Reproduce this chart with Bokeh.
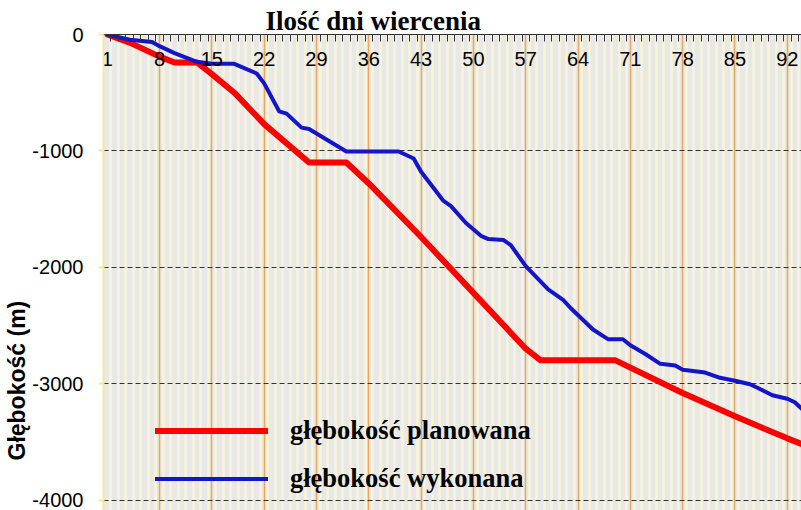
from bokeh.plotting import figure
from bokeh.models import FixedTicker, Legend, LegendItem, Range1d, Title
from bokeh.embed import file_html
from bokeh.resources import INLINE

# ---- data ----
x_ticks = [1, 8, 15, 22, 29, 36, 43, 50, 57, 64, 71, 78, 85, 92]
y_ticks = [0, -1000, -2000, -3000, -4000]
y_tick_labels = ["0", "-1000", "-2000", "-3000", "-4000"]

plan_days = [1, 4, 8, 10, 13, 15, 18, 22, 28, 33, 36, 43, 50, 57, 59, 69, 78, 85, 92, 94]
plan_depth = [0, -70, -190, -240, -240, -340, -500, -770, -1100, -1100, -1280, -1740,
              -2220, -2700, -2800, -2800, -3080, -3280, -3470, -3520]

done_days = [1, 4, 7, 8, 10, 13, 15, 18, 21, 22, 24, 25, 27, 28, 33, 40, 42, 43, 46, 47,
             49, 51, 52, 54, 55, 57, 60, 62, 63, 66, 68, 70, 71, 73, 75, 77, 78, 81, 83,
             85, 87, 88, 90, 92, 93, 94]
done_depth = [0, -45, -65, -100, -160, -235, -252, -252, -335, -420, -660, -680, -800,
              -812, -1005, -1005, -1065, -1180, -1430, -1475, -1620, -1730, -1758, -1765,
              -1810, -1990, -2190, -2280, -2350, -2535, -2618, -2618, -2670, -2745, -2830,
              -2845, -2880, -2905, -2950, -2975, -3005, -3035, -3100, -3130, -3160, -3220]

x_title = "Ilość dni wiercenia"
y_title = "Głębokość (m)"
label_plan = "głębokość planowana"
label_done = "głębokość wykonana"

# ---- figure ----
boundaries = [d + 0.5 for d in range(0, 94)]

p = figure(width=801, height=510,
           x_range=Range1d(0.5, 93.9), y_range=Range1d(-4090, 0),
           x_axis_location="above", title=x_title, title_location="above",
           output_backend="svg", toolbar_location=None,
           min_border_left=103, min_border_top=34, min_border_right=0, min_border_bottom=0,
           background_fill_color="#e8e8e8", border_fill_color="white",
           outline_line_color=None)

p.title.align = "left"
p.title.offset = 162
p.title.standoff = -3
p.title.text_font = "Liberation Serif"
p.title.text_font_style = "bold"
p.title.text_font_size = "27px"
p.title.text_color = "black"

xa = p.xaxis[0]
xa.ticker = FixedTicker(ticks=x_ticks, minor_ticks=boundaries)
xa.axis_line_color = "#333333"
xa.axis_line_width = 1
xa.major_tick_in = 0
xa.major_tick_out = 0
xa.minor_tick_in = 7
xa.minor_tick_out = 0
xa.minor_tick_line_color = "#333333"
xa.major_label_standoff = -31
xa.major_label_text_font = "Liberation Sans"
xa.major_label_text_font_size = "20px"
xa.major_label_text_color = "black"

ya = p.yaxis[0]
ya.ticker = FixedTicker(ticks=y_ticks)
ya.major_label_overrides = dict(zip(y_ticks, y_tick_labels))
ya.axis_line_color = "#f3ea9a"
ya.axis_line_width = 2
ya.major_tick_in = 0
ya.major_tick_out = 5
ya.major_tick_line_color = "#f3ea9a"
ya.major_tick_line_width = 2
ya.minor_tick_line_color = None
ya.major_label_standoff = 15
ya.major_label_text_font = "Liberation Sans"
ya.major_label_text_font_size = "20px"
ya.major_label_text_color = "black"

p.add_layout(Title(text=y_title, align="left", offset=50, standoff=0,
                   text_font="Liberation Sans", text_font_style="bold",
                   text_font_size="23px", text_color="black"), "left")

p.xgrid.ticker = FixedTicker(ticks=x_ticks[1:], minor_ticks=boundaries)
p.xgrid.grid_line_color = "#e7a862"
p.xgrid.grid_line_width = 1.5
p.xgrid.minor_grid_line_color = "#f8f4d8"
p.xgrid.minor_grid_line_width = 2.5

p.ygrid.ticker = FixedTicker(ticks=y_ticks[1:])
p.ygrid.grid_line_color = "#333333"
p.ygrid.grid_line_dash = "5 3"
p.ygrid.grid_line_width = 1

r_plan = p.line(plan_days, plan_depth, line_color="#ff0000", line_width=6,
                line_join="round", line_cap="round")
r_done = p.line(done_days, done_depth, line_color="#1414c8", line_width=4,
                line_join="round", line_cap="round")

legend = Legend(items=[LegendItem(label=label_plan, renderers=[r_plan]),
                       LegendItem(label=label_done, renderers=[r_done])],
                location=(52, 16), glyph_width=113, glyph_height=29,
                label_standoff=22, spacing=17, padding=0, margin=0,
                border_line_alpha=0, background_fill_alpha=0,
                label_text_font="Liberation Serif", label_text_font_style="bold",
                label_text_font_size="26.5px", label_text_color="black")
p.add_layout(legend)

open("out.html", "w").write(file_html(p, INLINE))
